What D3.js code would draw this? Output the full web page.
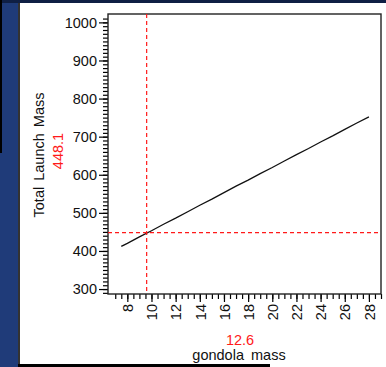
<!DOCTYPE html>
<html>
<head>
<meta charset="utf-8">
<script src="https://cdn.jsdelivr.net/npm/d3@7"></script>
<style>
  body { margin: 0; background: #1f3b79; }
  svg { display: block; }
  text { font-family: "Liberation Sans", Arial, sans-serif; }
</style>
</head>
<body>
<svg id="chart" width="386" height="367"></svg>
<script>
// gondola mass vs total launch mass
const gondolaMass = [7.5, 8, 9, 10, 11, 12, 13, 14, 15, 16, 17, 18, 19, 20, 21, 22, 23, 24, 25, 26, 27, 28];
const launchMass = [412, 420, 437, 453, 470, 486, 503, 520, 536, 553, 570, 586, 603, 619, 636, 653, 669, 686, 702, 719, 736, 752];

const xTicks = [8, 10, 12, 14, 16, 18, 20, 22, 24, 26, 28];
const yTicks = [300, 400, 500, 600, 700, 800, 900, 1000];

const crossX = 9.6;      // where the red cursor sits
const crossY = 448.1;
const crossXLabel = "12.6";
const crossYLabel = "448.1";

const svg = d3.select("#chart");

// slide background + white panel
svg.append("rect").attr("x", 0).attr("y", 0).attr("width", 386).attr("height", 367).attr("fill", "#1f3b79");
svg.append("rect").attr("x", 0).attr("y", 0).attr("width", 386).attr("height", 3).attr("fill", "#0f1f44");
svg.append("rect").attr("x", 0).attr("y", 0).attr("width", 2).attr("height", 153).attr("fill", "#000");
svg.append("rect").attr("x", 18).attr("y", 3).attr("width", 368).attr("height", 364).attr("fill", "#333");
svg.append("rect").attr("x", 20).attr("y", 3).attr("width", 366).attr("height", 361).attr("fill", "#fff");
svg.append("rect").attr("x", 18).attr("y", 364).attr("width", 252).attr("height", 3).attr("fill", "#000");
svg.append("rect").attr("x", 270).attr("y", 364).attr("width", 116).attr("height", 3).attr("fill", "#fff");

const pl = 108, pr = 381, pt = 14, pb = 294;

const x = d3.scaleLinear().domain([6.4, 29]).range([pl, pr]);
const y = d3.scaleLinear().domain([287, 1022]).range([pb, pt]);

// minor ticks
const xMinor = d3.range(7, 29.01, 0.5);
const yMinor = d3.range(290, 1020, 10);

svg.append("g")
  .attr("transform", `translate(0,${pb})`)
  .call(d3.axisBottom(x).tickValues(xMinor).tickSize(5).tickFormat(""))
  .call(g => g.select(".domain").remove());

svg.append("g")
  .attr("transform", `translate(${pl},0)`)
  .call(d3.axisLeft(y).tickValues(yMinor).tickSize(5).tickFormat(""))
  .call(g => g.select(".domain").remove());

// major ticks with labels
const xAxis = svg.append("g")
  .attr("transform", `translate(0,${pb})`)
  .call(d3.axisBottom(x).tickValues(xTicks).tickSize(8).tickPadding(0).tickFormat(d3.format("d")))
  .call(g => g.select(".domain").remove());

xAxis.selectAll("text")
  .attr("transform", "rotate(-90)")
  .attr("text-anchor", "end")
  .attr("x", -10)
  .attr("y", 0)
  .attr("dy", "0.36em")
  .attr("font-size", 14.5)
  .attr("font-family", "Liberation Sans, Arial, sans-serif")
  .attr("fill", "#111");

svg.append("g")
  .attr("transform", `translate(${pl},0)`)
  .call(d3.axisLeft(y).tickValues(yTicks).tickSize(9).tickPadding(2).tickFormat(d3.format("d")))
  .call(g => g.select(".domain").remove())
  .call(g => g.selectAll("text")
    .attr("font-size", 14.5)
    .attr("font-family", "Liberation Sans, Arial, sans-serif")
    .attr("fill", "#111"));

svg.selectAll(".tick line").attr("stroke", "#000").attr("stroke-width", 1.2);

// frame
svg.append("rect")
  .attr("x", pl).attr("y", pt)
  .attr("width", pr - pl).attr("height", pb - pt)
  .attr("fill", "none").attr("stroke", "#222").attr("stroke-width", 1.4);

// the curve
const line = d3.line()
  .x((d, i) => x(gondolaMass[i]))
  .y(d => y(d));

svg.append("path")
  .datum(launchMass)
  .attr("d", line)
  .attr("fill", "none")
  .attr("stroke", "#111")
  .attr("stroke-width", 1.3);

// red cursor
svg.append("line")
  .attr("x1", pl).attr("x2", pr)
  .attr("y1", y(crossY)).attr("y2", y(crossY))
  .attr("stroke", "#ff1a1a").attr("stroke-width", 1.2)
  .attr("stroke-dasharray", "4,3");

svg.append("line")
  .attr("x1", x(crossX)).attr("x2", x(crossX))
  .attr("y1", pt).attr("y2", pb)
  .attr("stroke", "#ff1a1a").attr("stroke-width", 1.2)
  .attr("stroke-dasharray", "4,3");

// axis titles
svg.append("text")
  .attr("transform", "translate(44,155) rotate(-90)")
  .attr("text-anchor", "middle")
  .attr("font-size", 14.5)
  .attr("word-spacing", 2)
  .attr("fill", "#111")
  .text("Total Launch Mass");

svg.append("text")
  .attr("transform", "translate(63,151) rotate(-90)")
  .attr("text-anchor", "middle")
  .attr("font-size", 14.5)
  .attr("fill", "#ff1a1a")
  .text(crossYLabel);

svg.append("text")
  .attr("x", 240).attr("y", 345)
  .attr("text-anchor", "middle")
  .attr("font-size", 14.5)
  .attr("fill", "#ff1a1a")
  .text(crossXLabel);

svg.append("text")
  .attr("x", 239).attr("y", 360)
  .attr("text-anchor", "middle")
  .attr("font-size", 14.5)
  .attr("word-spacing", 3)
  .attr("fill", "#111")
  .text("gondola mass");
</script>
</body>
</html>
